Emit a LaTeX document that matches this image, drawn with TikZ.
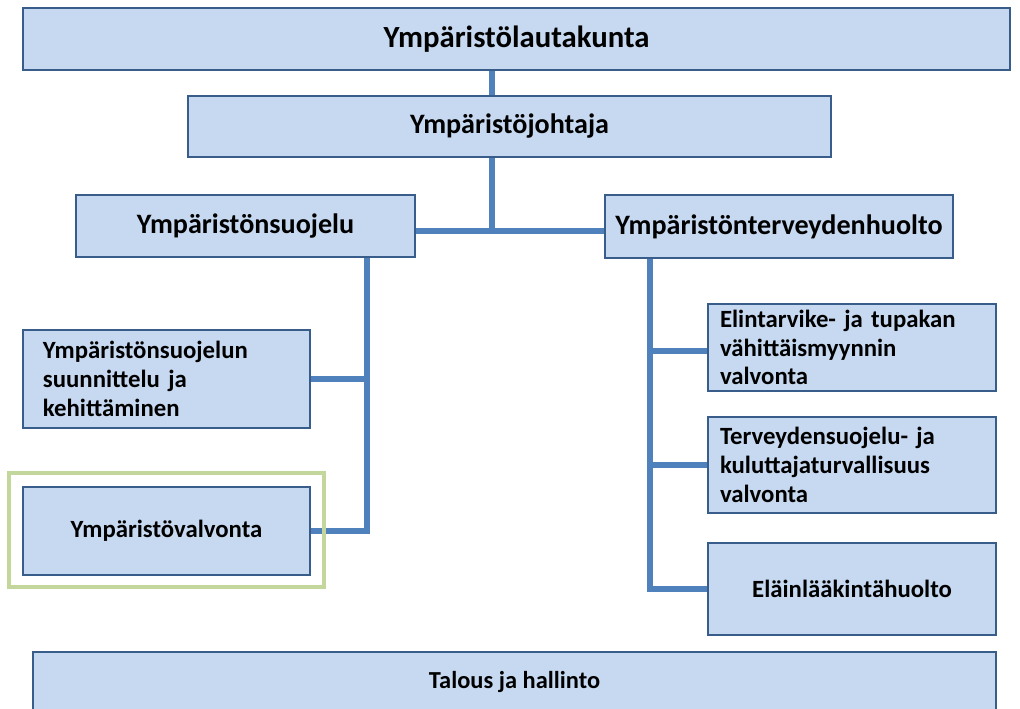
\documentclass[tikz,border=0pt]{standalone}
\usepackage{fontspec}
\setmainfont{Carlito}
\usepackage{xcolor}
\usepackage{tikz}
\usetikzlibrary{positioning,calc,backgrounds}

\definecolor{boxfill}{HTML}{C6D9F1}
\definecolor{boxline}{HTML}{385D8A}
\definecolor{connline}{HTML}{4F81BD}
\definecolor{frameline}{HTML}{C3D69B}

\tikzset{
    unitbox/.style={draw=boxline, fill=boxfill, line width=1.4pt, inner sep=0pt,
        font=\bfseries},
    subbox/.style={unitbox, align=left, font=\bfseries\fontsize{14.1}{16.4}\selectfont},
    conn/.style={draw=connline, line width=3.4pt}
}

\begin{document}
\begin{tikzpicture}
    \useasboundingbox (0,0) rectangle (20.4,-14.18);
    \clip (0,0) rectangle (20.4,-14.18);

    % Top levels
    \node[unitbox, minimum width=19.74cm, minimum height=1.24cm, font=\bfseries\fontsize{17.5}{20}\selectfont]
        (lauta) at (10.33,-0.78) {Ympäristölautakunta};
    \node[unitbox, minimum width=12.86cm, minimum height=1.22cm, font=\bfseries\fontsize{16}{19}\selectfont]
        (johtaja) at (10.19,-2.53) {Ympäristöjohtaja};

    % Units
    \node[unitbox, minimum width=6.78cm, minimum height=1.24cm, font=\bfseries\fontsize{16}{19}\selectfont]
        (suojelu) at (4.91,-4.52) {Ympäristönsuojelu};
    \node[unitbox, minimum width=6.96cm, minimum height=1.26cm, font=\bfseries\fontsize{16}{19}\selectfont]
        (terveys) at (15.58,-4.53) {Ympäristönterveydenhuolto};

    % Left branch
    \node[subbox, text width=4.94cm, inner xsep=0.4cm, minimum height=1.96cm]
        (suunnittelu) at (3.33,-7.58) {Ympäristönsuojelun\\suunnittelu ja\\kehittäminen};
    \node[subbox, align=center, minimum width=5.74cm, minimum height=1.76cm]
        (valvonta) at (3.33,-10.62) {Ympäristövalvonta};
    \draw[frameline, line width=2.8pt] (0.18,-9.46) rectangle (6.48,-11.74);

    % Right branch
    \node[subbox, text width=5.28cm, inner xsep=0.24cm, minimum height=1.74cm]
        (elintarvike) at (17.04,-6.95) {Elintarvike- ja tupakan\\vähittäismyynnin\\valvonta};
    \node[subbox, text width=5.28cm, inner xsep=0.24cm, minimum height=1.92cm]
        (terveydensuojelu) at (17.04,-9.30) {Terveydensuojelu- ja\\kuluttajaturvallisuus\\valvonta};
    \node[subbox, align=center, minimum width=5.76cm, minimum height=1.84cm]
        (elainlaakinta) at (17.04,-11.78) {Eläinlääkintähuolto};

    % Bottom
    \node[unitbox, minimum width=19.26cm, minimum height=1.2cm, font=\bfseries\fontsize{13.9}{16}\selectfont]
        (talous) at (10.29,-13.64) {Talous ja hallinto};

    % Connectors
    \coordinate (hub) at (9.84,-4.62);
    \coordinate (lspine) at (7.34,0);
    \coordinate (rspine) at (13.0,0);
    \begin{scope}[on background layer]
        \draw[conn] (lauta.south -| hub) -- (johtaja.north -| hub);
        \draw[conn] (johtaja.south -| hub) -- (hub);
        \draw[conn] (suojelu.east |- hub) -- (terveys.west |- hub);
        \draw[conn] (suojelu.south -| lspine) |- (valvonta.east);
        \draw[conn] (suunnittelu.east -| lspine) -- (suunnittelu.east);
        \draw[conn] (terveys.south -| rspine) |- (elainlaakinta.west);
        \draw[conn] ($(elintarvike.west -| rspine)+(0,-0.07)$) -- ($(elintarvike.west)+(0,-0.07)$);
        \draw[conn] (terveydensuojelu.west -| rspine) -- (terveydensuojelu.west);
    \end{scope}
\end{tikzpicture}
\end{document}
